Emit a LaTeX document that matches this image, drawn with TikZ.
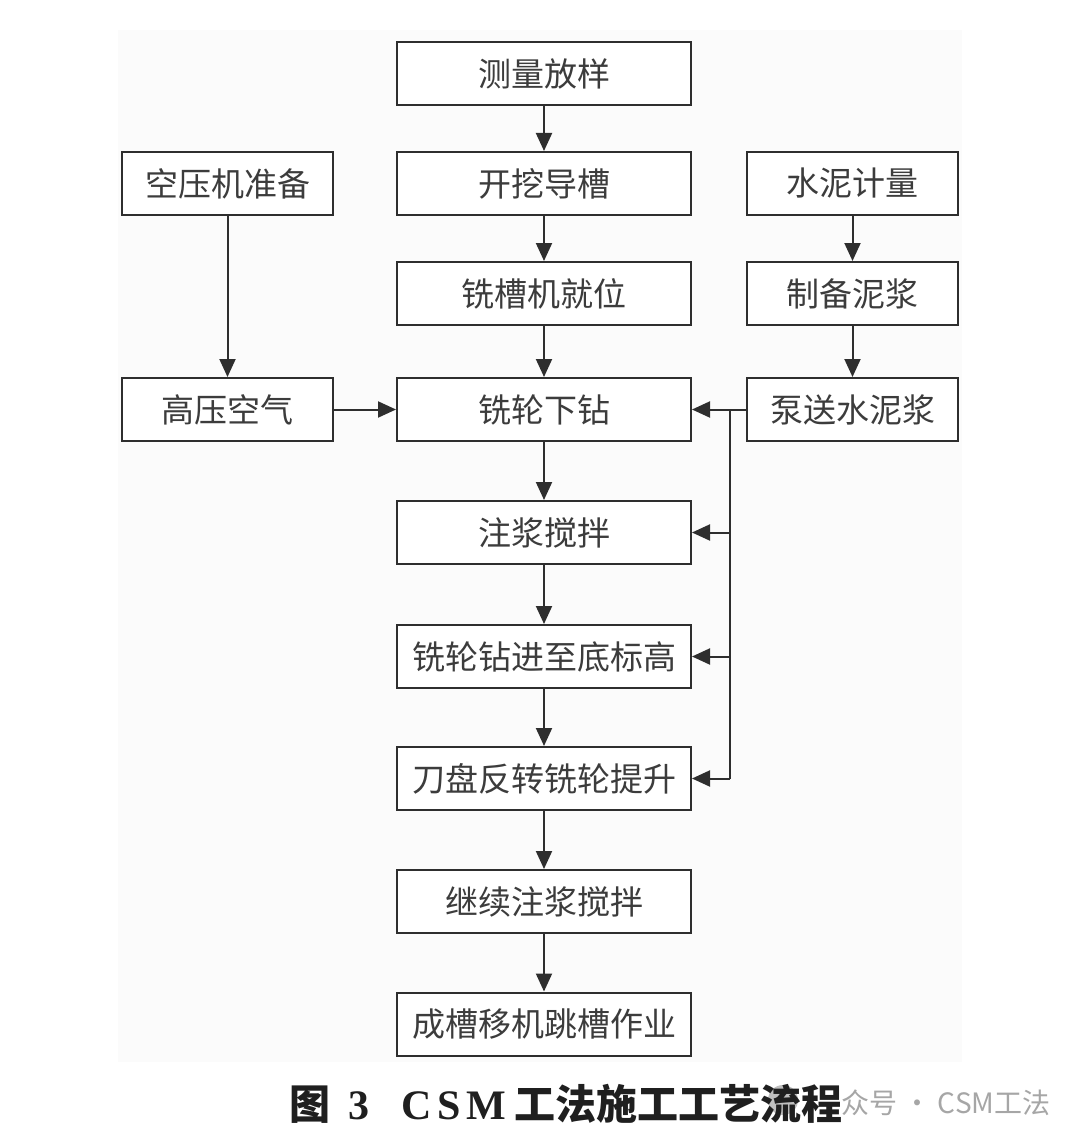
\documentclass[tikz,border=0pt]{standalone}
\usepackage{fontspec}
\newfontfamily\cjk{Noto Sans CJK SC}
\newfontfamily\serif{Liberation Serif}
\usetikzlibrary{arrows.meta}
\definecolor{ink}{HTML}{2E2E2E}
\definecolor{txt}{HTML}{3C3C3C}
\begin{document}
\begin{tikzpicture}[x=0.5pt,y=-0.5pt,
  box/.style={draw=ink,line width=1pt,fill=white,minimum height=31.5pt,inner sep=0pt,
    font=\cjk\fontsize{16.5}{18}\selectfont,text=txt},
  mainbox/.style={box,minimum width=147pt},
  sidebox/.style={box,minimum width=105.5pt},
  arr/.style={draw=ink,line width=1pt,-{Triangle[length=9pt,width=8pt]}},
  ln/.style={draw=ink,line width=1pt}]
\useasboundingbox (0,0) rectangle (1080,1145);
\fill[white] (0,0) rectangle (1080,1145);
\fill[black!1.5] (118,30) rectangle (962,1062);
% main column
\node[mainbox] (a1) at (544,73.5) {测量放样};
\node[mainbox] (a2) at (544,183.5) {开挖导槽};
\node[mainbox] (a3) at (544,293.5) {铣槽机就位};
\node[mainbox] (a4) at (544,409.5) {铣轮下钻};
\node[mainbox] (a5) at (544,532.5) {注浆搅拌};
\node[mainbox] (a6) at (544,656.5) {铣轮钻进至底标高};
\node[mainbox] (a7) at (544,778.5) {刀盘反转铣轮提升};
\node[mainbox] (a8) at (544,901.5) {继续注浆搅拌};
\node[mainbox] (a9) at (544,1024) {成槽移机跳槽作业};
% left column
\node[sidebox] (l1) at (227.5,183.5) {空压机准备};
\node[sidebox] (l2) at (227.5,409.5) {高压空气};
% right column
\node[sidebox] (r1) at (852.5,183.5) {水泥计量};
\node[sidebox] (r2) at (852.5,293.5) {制备泥浆};
\node[sidebox] (r3) at (852.5,409.5) {泵送水泥浆};
% main arrows
\draw[arr] (a1) -- (a2);
\draw[arr] (a2) -- (a3);
\draw[arr] (a3) -- (a4);
\draw[arr] (a4) -- (a5);
\draw[arr] (a5) -- (a6);
\draw[arr] (a6) -- (a7);
\draw[arr] (a7) -- (a8);
\draw[arr] (a8) -- (a9);
% left
\draw[arr] (l1) -- (l2);
\draw[arr] (l2) -- (a4);
% right
\draw[arr] (r1) -- (r2);
\draw[arr] (r2) -- (r3);
\draw[arr] (r3) -- (a4);
% branch
\coordinate (j0) at (730,409.5);
\coordinate (j1) at (730,532.5);
\coordinate (j2) at (730,656.5);
\coordinate (j3) at (730,778.5);
\draw[ln] (j0) -- (j3);
\draw[arr] (j1) -- (a5.east);
\draw[arr] (j2) -- (a6.east);
\draw[arr] (j3) -- (a7.east);
% caption
\fill[black!25] (783,1100) circle (15);
\node[anchor=west,inner sep=0pt,text=black!35,font=\cjk\fontsize{14}{16}\selectfont] (wm) at (841,1103) {众号 · CSM工法};
\node[inner sep=0pt,text=black!88] (cap) at (566,1104)
  {{\cjk\bfseries\fontsize{20.5}{22}\selectfont 图}\hspace{9pt}{\serif\bfseries\fontsize{21}{22}\selectfont 3}\hspace{16pt}{\serif\bfseries\fontsize{21}{22}\selectfont C\hspace{3pt}S\hspace{3pt}M}\hspace{4pt}{\cjk\bfseries\fontsize{20.5}{22}\selectfont 工法施工工艺流程}};
\end{tikzpicture}
\end{document}
